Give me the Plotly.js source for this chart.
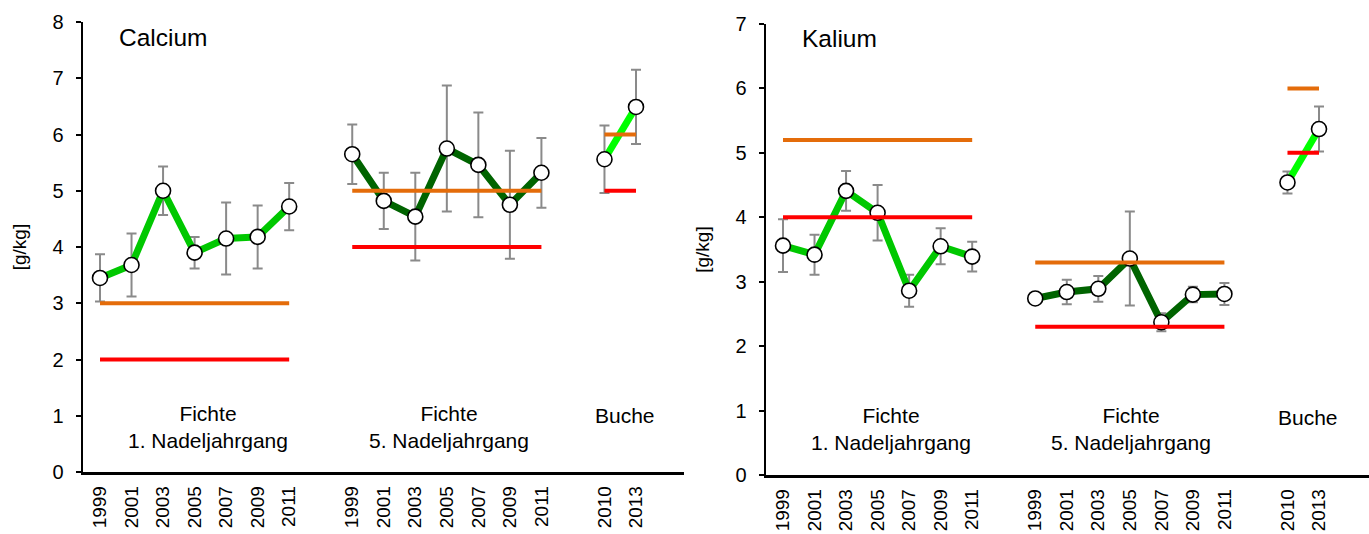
<!DOCTYPE html>
<html>
<head>
<meta charset="utf-8">
<script src="https://cdn.plot.ly/plotly-3.0.1.min.js"></script>
<style>
  html, body { margin: 0; padding: 0; background: #ffffff; }
  #chart { width: 1369px; height: 534px; }
</style>
</head>
<body>
<div id="chart"></div>
<script>
// ---------- Data ----------
const fichteYears = ['1999', '2001', '2003', '2005', '2007', '2009', '2011'];
const bucheYears = ['2010', '2013'];
const groupLabels = ['Fichte<br>1. Nadeljahrgang', 'Fichte<br>5. Nadeljahrgang', 'Buche'];

// Calcium [g/kg]
const caFichte1 = [3.45, 3.68, 5.00, 3.90, 4.15, 4.18, 4.72];
const caFichte1Err = [0.42, 0.56, 0.43, 0.28, 0.64, 0.56, 0.42];
const caFichte5 = [5.65, 4.82, 4.54, 5.75, 5.46, 4.75, 5.32];
const caFichte5Err = [0.53, 0.50, 0.78, 1.12, 0.93, 0.96, 0.62];
const caBuche = [5.56, 6.49];
const caBucheErr = [0.60, 0.66];
const caLower = [2.0, 4.0, 5.0];   // red
const caUpper = [3.0, 5.0, 6.0];   // orange

// Kalium [g/kg]
const kFichte1 = [3.56, 3.42, 4.41, 4.07, 2.86, 3.55, 3.39];
const kFichte1Err = [0.41, 0.31, 0.31, 0.43, 0.25, 0.28, 0.23];
const kFichte5 = [2.74, 2.84, 2.89, 3.36, 2.37, 2.80, 2.81];
const kFichte5Err = [0.06, 0.19, 0.20, 0.73, 0.14, 0.12, 0.17];
const kBuche = [4.54, 5.37];
const kBucheErr = [0.17, 0.35];
const kLower = [4.0, 2.3, 5.0];    // red
const kUpper = [5.2, 3.3, 6.0];    // orange

// ---------- Styling / layout helpers ----------
const FONT = 'Liberation Sans, Arial, sans-serif';
const groupOffsets = [0, 8, 16];
const groupColors = ['#00c800', '#006400', '#00ff00'];
const RED = '#ff0000';
const ORANGE = '#e46c0a';
const ERRGRAY = '#8a8a8a';

function buildPanel(xa, ya, series, errs, lower, upper) {
  const yearsList = [fichteYears, fichteYears, bucheYears];
  const traces = [];
  const refTraces = [];
  const tickvals = [];
  const ticktext = [];
  series.forEach((vals, g) => {
    const xs = yearsList[g].map((_, i) => groupOffsets[g] + i);
    xs.forEach((x, i) => { tickvals.push(x); ticktext.push(yearsList[g][i]); });
    // error bars (drawn beneath)
    traces.push({
      x: xs, y: vals, xaxis: xa, yaxis: ya, type: 'scatter', mode: 'markers',
      marker: { size: 1, color: 'rgba(0,0,0,0)' },
      error_y: { type: 'data', array: errs[g], visible: true, color: ERRGRAY, thickness: 2, width: 5 },
      hoverinfo: 'skip', showlegend: false
    });
    // data line with markers
    traces.push({
      x: xs, y: vals, xaxis: xa, yaxis: ya, type: 'scatter', mode: 'lines+markers',
      line: { color: groupColors[g], width: 7 },
      marker: { size: 15, color: '#ffffff', line: { color: '#000000', width: 1.6 } },
      showlegend: false
    });
    const xr = [xs[0], xs[xs.length - 1]];
    refTraces.push({
      x: xr, y: [upper[g], upper[g]], xaxis: xa, yaxis: ya, type: 'scatter', mode: 'lines',
      line: { color: ORANGE, width: 4 }, hoverinfo: 'skip', showlegend: false
    });
    refTraces.push({
      x: xr, y: [lower[g], lower[g]], xaxis: xa, yaxis: ya, type: 'scatter', mode: 'lines',
      line: { color: RED, width: 4 }, hoverinfo: 'skip', showlegend: false
    });
  });
  return { traces: traces.concat(refTraces), tickvals, ticktext };
}

const left = buildPanel('x', 'y',
  [caFichte1, caFichte5, caBuche], [caFichte1Err, caFichte5Err, caBucheErr], caLower, caUpper);
const right = buildPanel('x2', 'y2',
  [kFichte1, kFichte5, kBuche], [kFichte1Err, kFichte5Err, kBucheErr], kLower, kUpper);

const W = 1369, H = 534;
const slot = 31.53;

function xAxis(domL, domR, firstSlotPx, tv, tt, anchor) {
  const start = -(firstSlotPx - domL) / slot;
  const end = start + (domR - domL) / slot;
  return {
    domain: [domL / W, domR / W], range: [start, end], anchor: anchor,
    showline: true, linecolor: '#000000', linewidth: 2.5, mirror: false,
    showgrid: false, zeroline: false, ticks: '',
    tickmode: 'array', tickvals: tv, ticktext: tt, tickangle: -90,
    ticklabelstandoff: 4,
    tickfont: { family: FONT, size: 19, color: '#000000' }
  };
}
function yAxis(top, bottom, maxV, anchor) {
  return {
    domain: [(H - bottom) / H, (H - top) / H], range: [0, maxV], anchor: anchor,
    showline: true, linecolor: '#000000', linewidth: 2.5,
    showgrid: false, zeroline: false, ticks: 'outside', ticklen: 5, tickwidth: 2, tickcolor: '#000000',
    ticklabelstandoff: 8,
    dtick: 1, tickfont: { family: FONT, size: 20, color: '#000000' },
    title: { text: '[g/kg]', font: { family: FONT, size: 19, color: '#000000' }, standoff: 21 }
  };
}

function label(text, xpx, ypx, size) {
  return {
    text: text, xref: 'paper', yref: 'paper', x: xpx / W, y: 1 - ypx / H,
    xanchor: 'center', yanchor: 'middle', showarrow: false, align: 'center',
    font: { family: FONT, size: size, color: '#000000' }
  };
}

const annotations = [
  Object.assign(label('Calcium', 117, 37, 24.5), { xanchor: 'left' }),
  Object.assign(label('Kalium', 800, 39, 24.5), { xanchor: 'left' }),
  label(groupLabels[0], 208, 427, 21),
  label(groupLabels[1], 449, 427, 21),
  label(groupLabels[2], 625, 415, 21),
  label(groupLabels[0], 891, 429, 21),
  label(groupLabels[1], 1131, 429, 21),
  label(groupLabels[2], 1308, 417, 21)
];

const layout = {
  width: W, height: H,
  margin: { l: 0, r: 0, t: 0, b: 0, pad: 0 },
  paper_bgcolor: '#ffffff', plot_bgcolor: '#ffffff',
  showlegend: false,
  font: { family: FONT, color: '#000000' },
  xaxis: xAxis(83, 684, 100, left.tickvals, left.ticktext, 'y'),
  yaxis: yAxis(22, 472, 8, 'x'),
  xaxis2: xAxis(766, 1369, 783, right.tickvals, right.ticktext, 'y2'),
  yaxis2: yAxis(24, 475, 7, 'x2'),
  annotations: annotations
};

Plotly.newPlot('chart', left.traces.concat(right.traces), layout, { displayModeBar: false, staticPlot: true });
</script>
</body>
</html>
